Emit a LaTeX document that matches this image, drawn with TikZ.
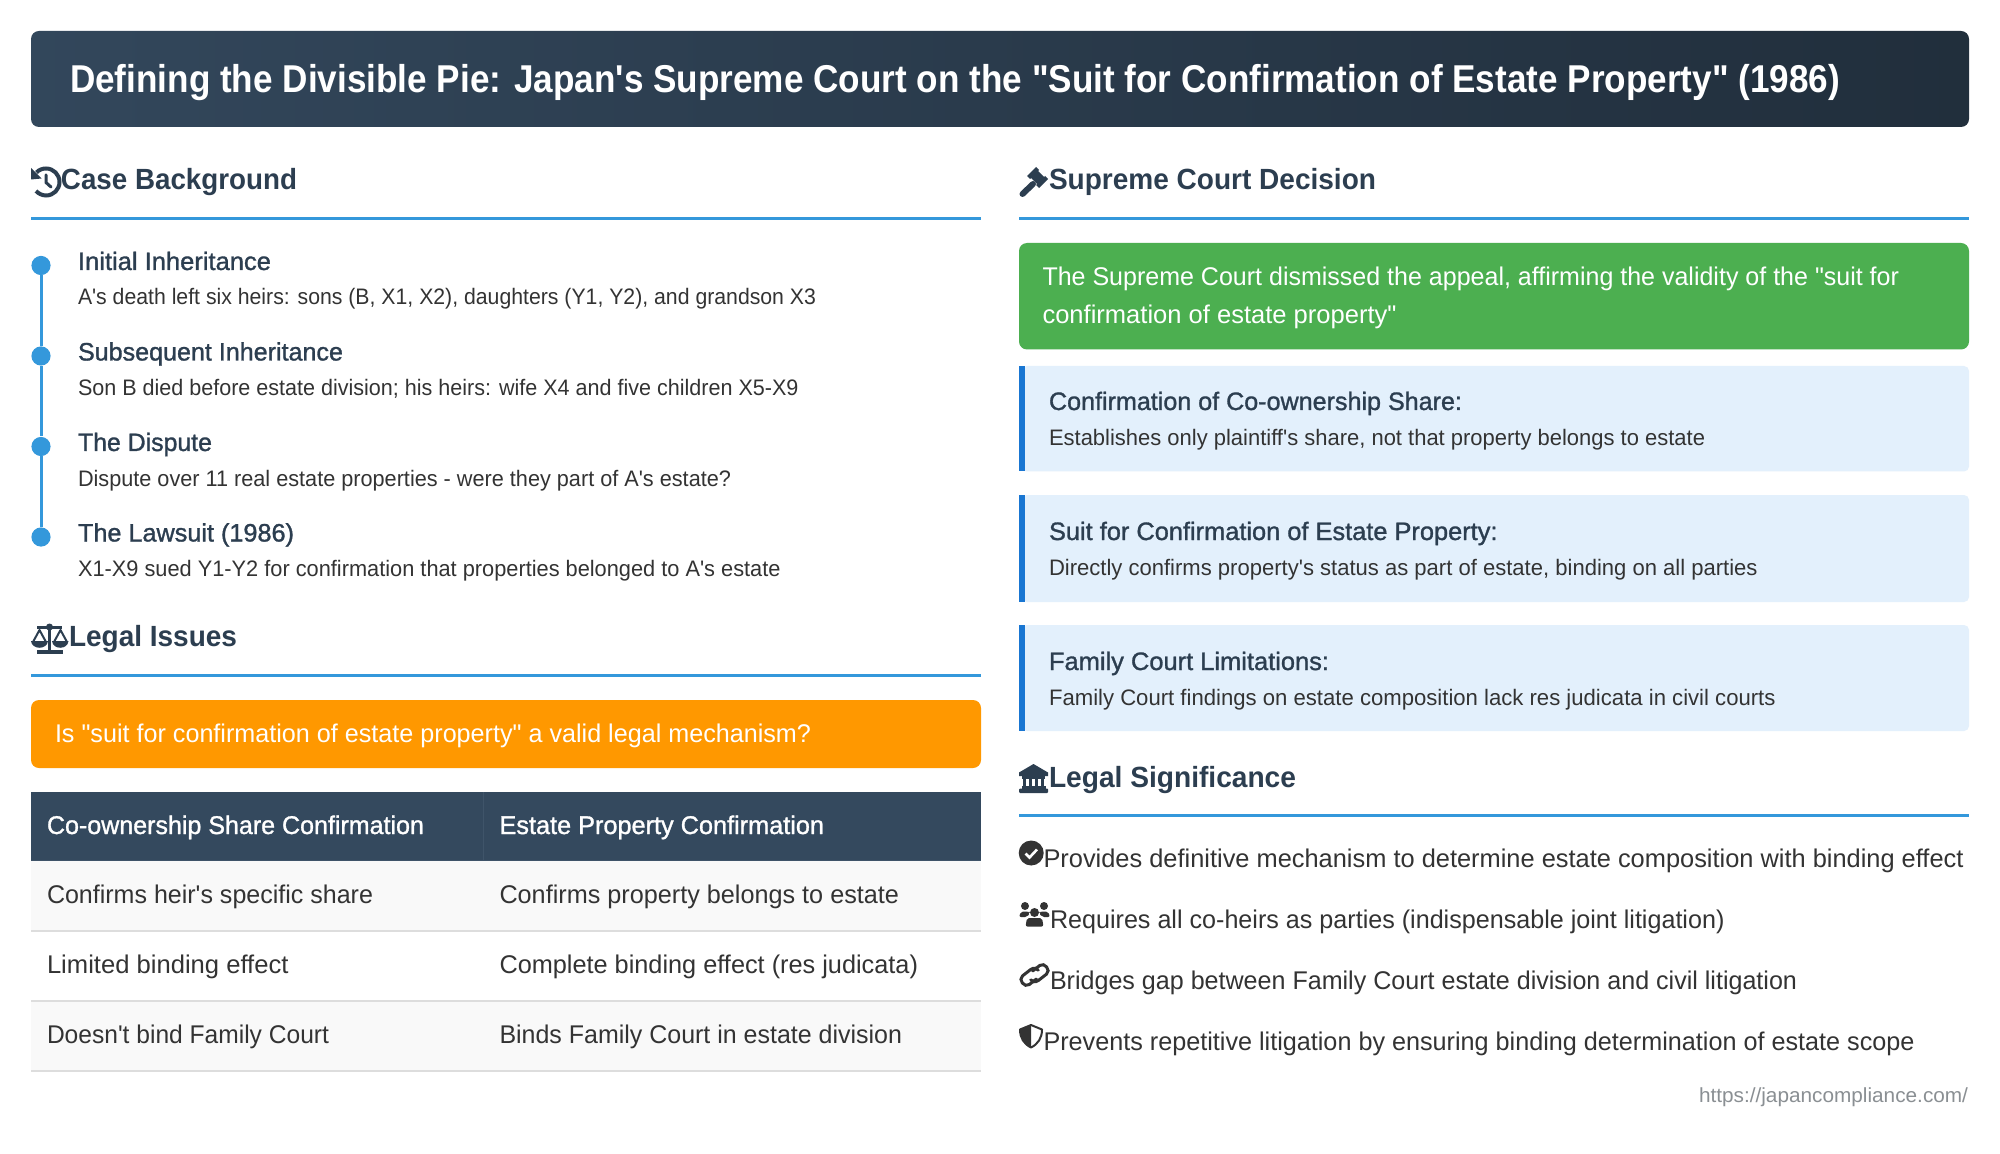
\documentclass[tikz,border=0pt]{standalone}
\usepackage{fontspec}
\usepackage{graphicx}
\newfontfamily\rbr{Liberation Sans}
\newfontfamily\rbm{Liberation Sans}[FakeBold=1.2]
\definecolor{ink}{HTML}{2C3E50}
\definecolor{body}{HTML}{333333}
\definecolor{accent}{HTML}{3498DB}
\definecolor{headrow}{HTML}{34495E}
\definecolor{headline}{HTML}{3F5469}
\definecolor{cardbg}{HTML}{E3F0FC}
\definecolor{cardbar}{HTML}{1976D2}
\definecolor{okgreen}{HTML}{4CAF50}
\definecolor{warn}{HTML}{FF9800}
\definecolor{stripe}{HTML}{F9F9F9}
\definecolor{sep}{HTML}{DDDDDD}
\definecolor{foot}{HTML}{8A8F93}
\newcommand\tx[6]{%
  \pgfmathsetlengthmacro\tw{(#4-#2)*0.5pt}%
  \node[txt,#5] (#1) at (#2,#3) {\resizebox{\tw}{\height}{#6}};}
\tikzset{
  txt/.style={anchor=base west,inner sep=0pt,outer sep=0pt},
  titletext/.style={text=white,font=\rbr\bfseries\fontsize{19.4}{23}\selectfont},
  sectext/.style={text=ink,font=\rbr\bfseries\fontsize{14.6}{17}\selectfont},
  subtext/.style={text=ink,font=\rbm\fontsize{12.6}{15}\selectfont},
  desctext/.style={text=body,font=\rbr\fontsize{11.2}{14}\selectfont},
  bodytext/.style={text=body,font=\rbr\fontsize{12.8}{15}\selectfont},
  whitetext/.style={text=white,font=\rbr\fontsize{12.8}{15}\selectfont},
  headtext/.style={text=white,font=\rbm\fontsize{12.8}{15}\selectfont},
  foottext/.style={text=foot,font=\rbr\fontsize{10.2}{12}\selectfont},
  rulex/.style={draw=accent,line width=1.5pt},
  dotnode/.style={circle,fill=accent,inner sep=0pt,minimum size=9.6pt},
  sepline/.style={draw=sep,line width=1pt},
}
\begin{document}
\begin{tikzpicture}[x=0.5pt,y=-0.5pt]
\useasboundingbox[fill=white] (0,0) rectangle (2000,1154);
% title
\shade[rounded corners=4pt,left color=headrow!80!ink,right color=ink!75!black] (31,31) rectangle (1969,127);
\tx{title}{70}{92.5}{1840}{titletext}{Defining the Divisible Pie: Japan's Supreme Court on the "Suit for Confirmation of Estate Property" (1986)}
% rules
\draw[rulex] (31,218.5) -- (981,218.5);
\draw[rulex] (1019,218.5) -- (1969,218.5);
\draw[rulex] (31,675) -- (981,675);
\draw[rulex] (1019,815) -- (1969,815);
% section headings
\tx{h1}{61}{190}{297}{sectext}{Case Background}
\tx{h2}{69}{646}{237}{sectext}{Legal Issues}
\tx{h3}{1049}{190}{1376}{sectext}{Supreme Court Decision}
\tx{h4}{1049}{787}{1296}{sectext}{Legal Significance}
% timeline
\node[dotnode] (d1) at (41,265.5) {};
\node[dotnode] (d2) at (41,356) {};
\node[dotnode] (d3) at (41,446.5) {};
\node[dotnode] (d4) at (41,537) {};
\draw[accent,line width=1.5pt] (d1) -- (d2);
\draw[accent,line width=1.5pt] (d2) -- (d3);
\draw[accent,line width=1.5pt] (d3) -- (d4);
\tx{t1a}{78}{270}{271}{subtext}{Initial Inheritance}
\tx{t1b}{78}{305}{816}{desctext}{A's death left six heirs: sons (B, X1, X2), daughters (Y1, Y2), and grandson X3}
\tx{t2a}{78}{360.5}{343}{subtext}{Subsequent Inheritance}
\tx{t2b}{78}{395.5}{798.5}{desctext}{Son B died before estate division; his heirs: wife X4 and five children X5-X9}
\tx{t3a}{78}{451}{212}{subtext}{The Dispute}
\tx{t3b}{78}{486}{731}{desctext}{Dispute over 11 real estate properties - were they part of A's estate?}
\tx{t4a}{78}{541.5}{294}{subtext}{The Lawsuit (1986)}
\tx{t4b}{78}{576.5}{780.5}{desctext}{X1-X9 sued Y1-Y2 for confirmation that properties belonged to A's estate}
% orange box
\fill[warn,rounded corners=4pt] (31,700) rectangle (981,768);
\tx{q}{55}{742}{811}{whitetext}{Is "suit for confirmation of estate property" a valid legal mechanism?}
% table
\fill[headrow] (31,792) rectangle (981,861);
\draw[headline,line width=0.5pt] (483,792) -- (483,861);
\draw[headline,line width=1pt] (31,860.5) -- (981,860.5);
\fill[stripe] (31,861) rectangle (981,930);
\fill[stripe] (31,1001) rectangle (981,1071);
\draw[sepline] (31,930.5) -- (981,930.5);
\draw[sepline] (31,1000.5) -- (981,1000.5);
\draw[sepline] (31,1071) -- (981,1071);
\tx{c11}{47}{834}{424}{headtext}{Co-ownership Share Confirmation}
\tx{c12}{499.5}{834}{824}{headtext}{Estate Property Confirmation}
\tx{c21}{47}{903}{373}{bodytext}{Confirms heir's specific share}
\tx{c22}{499.5}{903}{899}{bodytext}{Confirms property belongs to estate}
\tx{c31}{47}{973}{288.5}{bodytext}{Limited binding effect}
\tx{c32}{499.5}{973}{918}{bodytext}{Complete binding effect (res judicata)}
\tx{c41}{47}{1043}{329}{bodytext}{Doesn't bind Family Court}
\tx{c42}{499.5}{1043}{902}{bodytext}{Binds Family Court in estate division}
% green box
\fill[okgreen,rounded corners=4pt] (1019,243) rectangle (1969,349.5);
\tx{g1}{1042.5}{286}{1899}{whitetext}{The Supreme Court dismissed the appeal, affirming the validity of the "suit for}
\tx{g2}{1042.5}{324}{1396.5}{whitetext}{confirmation of estate property"}
% cards
\foreach \t/\b in {366/471.5,495/602,625/731}{
  \fill[cardbg,rounded corners=2.5pt] (1022,\t) rectangle (1969,\b);
  \fill[cardbar] (1019,\t) rectangle (1025,\b);
}
\tx{k1a}{1049}{410}{1462}{subtext}{Confirmation of Co-ownership Share:}
\tx{k1b}{1049}{445}{1705}{desctext}{Establishes only plaintiff's share, not that property belongs to estate}
\tx{k2a}{1049}{540}{1497.5}{subtext}{Suit for Confirmation of Estate Property:}
\tx{k2b}{1049}{575}{1757.5}{desctext}{Directly confirms property's status as part of estate, binding on all parties}
\tx{k3a}{1049}{670}{1329}{subtext}{Family Court Limitations:}
\tx{k3b}{1049}{705}{1775.5}{desctext}{Family Court findings on estate composition lack res judicata in civil courts}
% significance
\tx{s1}{1043.5}{867}{1963.5}{bodytext}{Provides definitive mechanism to determine estate composition with binding effect}
\tx{s2}{1050}{928}{1724.5}{bodytext}{Requires all co-heirs as parties (indispensable joint litigation)}
\tx{s3}{1050}{989.5}{1797}{bodytext}{Bridges gap between Family Court estate division and civil litigation}
\tx{s4}{1043.5}{1050}{1914.5}{bodytext}{Prevents repetitive litigation by ensuring binding determination of estate scope}
\tx{url}{1699}{1102}{1968}{foottext}{https://japancompliance.com/}
% --- icons ---
% history
\draw[ink,line width=2pt] (36.5,172.5) .. controls (39,169.5) and (43,168.5) .. (46,168.5)
  .. controls (53.5,168.5) and (59.5,174.5) .. (59.5,182)
  .. controls (59.5,189.5) and (53.5,195.5) .. (46,195.5)
  .. controls (42,195.5) and (38.5,193.5) .. (36,191);
\fill[ink] (31,168) -- (41.5,178.5) -- (31,179.5) -- cycle;
\draw[ink,line width=1.5pt,line cap=round] (46,175) -- (46,182.5) -- (51,187);
% scales
\fill[ink] (37,625.5) rectangle (62,628.5);
\fill[ink] (48,625) rectangle (51,650);
\fill[ink] (37,650) rectangle (63,653.5);
\fill[ink] (49.5,627) circle[radius=3.5];
\draw[ink,line width=1pt,line join=round] (33,642) -- (39.5,630) -- (46,642);
\draw[ink,line width=1pt,line join=round] (54,642) -- (60.5,630) -- (67,642);
\fill[ink] (31,641) -- (48,641) .. controls (47,650) and (32,650) .. (31,641) -- cycle;
\fill[ink] (52,641) -- (68.5,641) .. controls (67.5,650) and (53,650) .. (52,641) -- cycle;
% gavel
\fill[ink] (1036,167) -- (1039,170) -- (1038,171) -- (1044,177) -- (1045,176) -- (1048,179) -- (1039,188) -- (1036,185) -- (1037,184) -- (1031,178) -- (1030,179) -- (1027,176) -- cycle;
\draw[ink,line width=3pt,line cap=round] (1033,184) -- (1022.5,194);
% bank
\fill[ink] (1033.5,764) -- (1048,772.5) -- (1048,776) -- (1019,776) -- (1019,772.5) -- cycle;
\fill[ink] (1022,776) rectangle (1045,778.5);
\foreach \cx in {1024.5,1030.5,1036.5,1042.5}{\fill[ink] (\cx-1.2,778) rectangle (\cx+1.2,786);}
\fill[ink] (1021.5,785.5) rectangle (1045.5,789);
\fill[ink,rounded corners=0.5pt] (1019,788.5) rectangle (1048,793);
% check
\fill[body] (1031.2,853) circle[radius=12.5];
\draw[white,line width=1.3pt] (1025.5,853.5) -- (1029.5,857.5) -- (1037,849.5);
% users
\fill[body] (1025,906) circle[radius=4];
\fill[body] (1044,906) circle[radius=4];
\fill[body] (1034.5,912.5) circle[radius=4.5];
\fill[body,rounded corners=1pt] (1019,917) -- (1021,911.5) -- (1029,911.5) -- (1030,913) -- (1027,917) -- cycle;
\fill[body,rounded corners=1pt] (1050,917) -- (1048,911.5) -- (1040,911.5) -- (1039,913) -- (1042,917) -- cycle;
\fill[body,rounded corners=1pt] (1025.5,926.5) -- (1027,918) -- (1042,918) -- (1043.5,926.5) -- cycle;
% link
\begin{scope}[shift={(1034.5,975)},rotate=38]
\draw[body,line width=1.5pt,line cap=round] (-1,4.3) -- (-10,4.3)
  .. controls (-16,4.3) and (-16,-6.7) .. (-10,-6.7) -- (0,-6.7)
  .. controls (4,-6.7) and (6,-4) .. (6,-1.5);
\draw[body,line width=1.5pt,line cap=round] (1,-4.3) -- (10,-4.3)
  .. controls (16,-4.3) and (16,6.7) .. (10,6.7) -- (0,6.7)
  .. controls (-4,6.7) and (-6,4) .. (-6,1.5);
\end{scope}
% shield
\draw[body,line width=1pt,line join=round] (1031,1025) -- (1042,1029.5) .. controls (1042,1038) and (1038,1044) .. (1031,1047.5)
  .. controls (1024,1044) and (1020,1038) .. (1020,1029.5) -- cycle;
\fill[body] (1031,1025) -- (1020,1029.5) .. controls (1020,1038) and (1024,1044) .. (1031,1047.5) -- cycle;
\end{tikzpicture}
\end{document}
